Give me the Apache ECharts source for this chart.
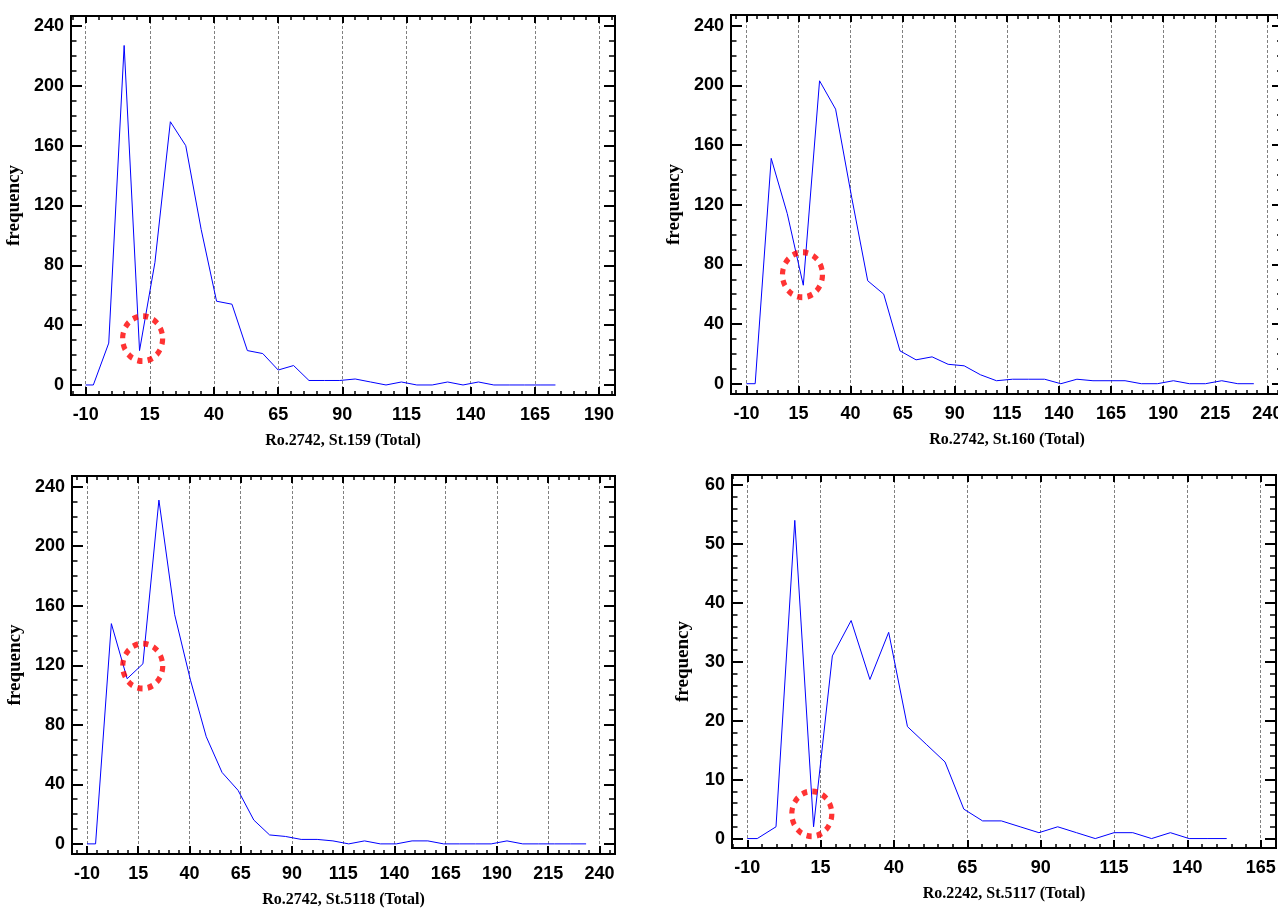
<!DOCTYPE html>
<html>
<head>
<meta charset="utf-8">
<script src="https://cdn.jsdelivr.net/npm/echarts@6/dist/echarts.min.js"></script>
<style>
html,body{margin:0;padding:0;background:#fff;}
#c{width:1278px;height:909px;}
</style>
</head>
<body>
<div id="c"></div>
<script>
// ---------------- DATA ----------------
// Ro.2742, St.159 (Total)
const x159 = [-10, -7, -1, 5, 11, 17, 23, 29, 35, 41, 47, 53, 59, 65, 71, 77, 83, 89, 95, 101, 107, 113, 119, 125, 131, 137, 143, 149, 155, 161, 167, 173];
const f159 = [0, 0, 28, 227, 23, 82, 176, 160, 104, 56, 54, 23, 21, 10, 13, 3, 3, 3, 4, 2, 0, 2, 0, 0, 2, 0, 2, 0, 0, 0, 0, 0];
// Ro.2742, St.160 (Total)
const x160 = [-10, -5.8, 1.9, 9.6, 17.3, 25.1, 32.8, 40.5, 48.2, 55.9, 63.7, 71.4, 79.1, 86.8, 94.5, 102.3, 110.0, 117.7, 125.4, 133.1, 140.9, 148.6, 156.3, 164.0, 171.7, 179.5, 187.2, 194.9, 202.6, 210.3, 218.1, 225.8, 233.5];
const f160 = [0, 0, 151, 114, 66, 203, 184, 125, 69, 60, 22, 16, 18, 13, 12, 6, 2, 3, 3, 3, 0, 3, 2, 2, 2, 0, 0, 2, 0, 0, 2, 0, 0];
// Ro.2742, St.5118 (Total)
const x5118 = [-10, -5.8, 1.9, 9.6, 17.3, 25.1, 32.8, 40.5, 48.2, 55.9, 63.7, 71.4, 79.1, 86.8, 94.5, 102.3, 110.0, 117.7, 125.4, 133.1, 140.9, 148.6, 156.3, 164.0, 171.7, 179.5, 187.2, 194.9, 202.6, 210.3, 218.1, 225.8, 233.5];
const f5118 = [0, 0, 148, 111, 121, 231, 154, 110, 72, 48, 36, 16, 6, 5, 3, 3, 2, 0, 2, 0, 0, 2, 2, 0, 0, 0, 0, 2, 0, 0, 0, 0, 0];
// Ro.2242, St.5117 (Total)
const x5117 = [-10, -6.6, -0.2, 6.2, 12.6, 19.0, 25.4, 31.8, 38.2, 44.6, 51.0, 57.4, 63.8, 70.2, 76.6, 83.0, 89.4, 95.8, 102.2, 108.6, 115.0, 121.4, 127.8, 134.2, 140.6, 147.0, 153.4];
const f5117 = [0, 0, 2, 54, 2, 31, 37, 27, 35, 19, 16, 13, 5, 3, 3, 2, 1, 2, 1, 0, 1, 1, 0, 1, 0, 0, 0];

// red dotted annotation circles (centre, data coords)
const mark159 = [12.2, 31];
const mark160 = [16.9, 73];
const mark5118 = [17.2, 119.5];
const mark5117 = [12.0, 4.2];

// tick labels
const xTicks159 = [-10, 15, 40, 65, 90, 115, 140, 165, 190];
const xTicks160 = [-10, 15, 40, 65, 90, 115, 140, 165, 190, 215, 240];
const xTicks5118 = [-10, 15, 40, 65, 90, 115, 140, 165, 190, 215, 240];
const xTicks5117 = [-10, 15, 40, 65, 90, 115, 140, 165];
const yTicks240 = [0, 40, 80, 120, 160, 200, 240];
const yTicks60 = [0, 10, 20, 30, 40, 50, 60];

const names = ['Ro.2742, St.159 (Total)', 'Ro.2742, St.160 (Total)', 'Ro.2742, St.5118 (Total)', 'Ro.2242, St.5117 (Total)'];

// ---------------- LAYOUT ----------------
const panels = [
  {xs:x159, ys:f159, mark:mark159, xTicks:xTicks159, xMinorStep:5, yTicks:yTicks240, yMinorStep:10, name:names[0],
   grid:{left:71, top:16, width:544, height:379}, xMin:-15.7, xMax:196.2, yMin:-6.7, yMax:246.7, yNameGap:47},
  {xs:x160, ys:f160, mark:mark160, xTicks:xTicks160, xMinorStep:5, yTicks:yTicks240, yMinorStep:10, name:names[1],
   grid:{left:731, top:15, width:552, height:379}, xMin:-17.4, xMax:247.5, yMin:-6.9, yMax:247.1, yNameGap:47},
  {xs:x5118, ys:f5118, mark:mark5118, xTicks:xTicks5118, xMinorStep:5, yTicks:yTicks240, yMinorStep:10, name:names[2],
   grid:{left:72, top:476, width:543, height:378}, xMin:-17.3, xMax:247.6, yMin:-6.8, yMax:247.2, yNameGap:47},
  {xs:x5117, ys:f5117, mark:mark5117, xTicks:xTicks5117, xMinorStep:5, yTicks:yTicks60, yMinorStep:2, name:names[3],
   grid:{left:732, top:475, width:544, height:373}, xMin:-15.2, xMax:170.2, yMin:-1.6, yMax:61.7, yNameGap:39}
];

function minorsOf(majors, step, lo, hi) {
  const out = [];
  const first = majors[0] - Math.floor((majors[0] - lo) / step) * step;
  for (let v = first; v <= hi + 1e-9; v += step) {
    const r = Math.round(v * 1000) / 1000;
    if (majors.indexOf(r) < 0) out.push(r);
  }
  return out;
}

const tickFont = {fontFamily: "'Liberation Sans Narrow','Arial Narrow','Liberation Sans',Arial,sans-serif", fontWeight: 'bold', fontSize: 18, color: '#000'};
const nameFont = {fontFamily: "'Liberation Serif','Times New Roman',serif", fontWeight: 'bold', fontSize: 16, color: '#000'};

const grids = [], xAxes = [], yAxes = [], series = [];

panels.forEach((P, g) => {
  grids.push(Object.assign({show: true, borderColor: '#000', borderWidth: 2, backgroundColor: 'rgba(0,0,0,0)', containLabel: false, outerBoundsMode: 'none'}, P.grid));
  const xMinors = minorsOf(P.xTicks, P.xMinorStep, P.xMin, P.xMax);
  const yMinors = minorsOf(P.yTicks, P.yMinorStep, P.yMin, P.yMax);
  const xb = {type: 'value', gridIndex: g, min: P.xMin, max: P.xMax, axisLine: {show: false, onZero: false},
              splitLine: {show: false}, axisLabel: {show: false}, minorTick: {show: false}, minorSplitLine: {show: false}};
  const yb = {type: 'value', gridIndex: g, min: P.yMin, max: P.yMax, axisLine: {show: false, onZero: false},
              splitLine: {show: false}, axisLabel: {show: false}, minorTick: {show: false}, minorSplitLine: {show: false}};
  const tk = (vals, len, w) => ({show: true, inside: true, length: len, customValues: vals, lineStyle: {color: '#000', width: w}});
  xAxes.push(
    Object.assign({}, xb, {position: 'bottom', axisTick: tk(P.xTicks, 8, 2),
      axisLabel: Object.assign({show: true, customValues: P.xTicks, margin: 11}, tickFont),
      splitLine: {show: true, lineStyle: {color: '#808080', width: 1, type: [3, 2]}},
      name: P.name, nameLocation: 'middle', nameGap: 38, nameTextStyle: nameFont}),
    Object.assign({}, xb, {position: 'bottom', axisTick: tk(xMinors, 4, 1.5)}),
    Object.assign({}, xb, {position: 'top', axisTick: tk(P.xTicks, 7, 2)}),
    Object.assign({}, xb, {position: 'top', axisTick: tk(xMinors, 4, 1.5)})
  );
  yAxes.push(
    Object.assign({}, yb, {position: 'left', axisTick: tk(P.yTicks, 11, 2),
      axisLabel: Object.assign({show: true, customValues: P.yTicks, margin: 7}, tickFont),
      name: 'frequency', nameLocation: 'middle', nameGap: P.yNameGap, nameRotate: 90,
      nameTextStyle: Object.assign({}, nameFont, {fontSize: 19})}),
    Object.assign({}, yb, {position: 'left', axisTick: tk(yMinors, 5.5, 1.5)}),
    Object.assign({}, yb, {position: 'right', axisTick: tk(P.yTicks, 11, 2)}),
    Object.assign({}, yb, {position: 'right', axisTick: tk(yMinors, 6, 1.5)})
  );
  series.push({
    type: 'line', xAxisIndex: 4 * g, yAxisIndex: 4 * g,
    data: P.xs.map((x, i) => [x, P.ys[i]]),
    showSymbol: false, symbol: 'none', silent: true, z: 3,
    lineStyle: {color: '#0000ff', width: 1}
  });
  series.push({
    type: 'scatter', xAxisIndex: 4 * g, yAxisIndex: 4 * g,
    data: [P.mark], symbol: 'circle', symbolSize: [40, 45], silent: true, z: 4,
    itemStyle: {color: 'rgba(0,0,0,0)', borderColor: '#ff0000', borderWidth: 5.5, borderType: [5.5, 5.6]}
  });
});

const chart = echarts.init(document.getElementById('c'), null, {renderer: 'canvas'});
chart.setOption({
  animation: false,
  backgroundColor: '#fff',
  grid: grids,
  xAxis: xAxes,
  yAxis: yAxes,
  series: series
});
</script>
</body>
</html>
